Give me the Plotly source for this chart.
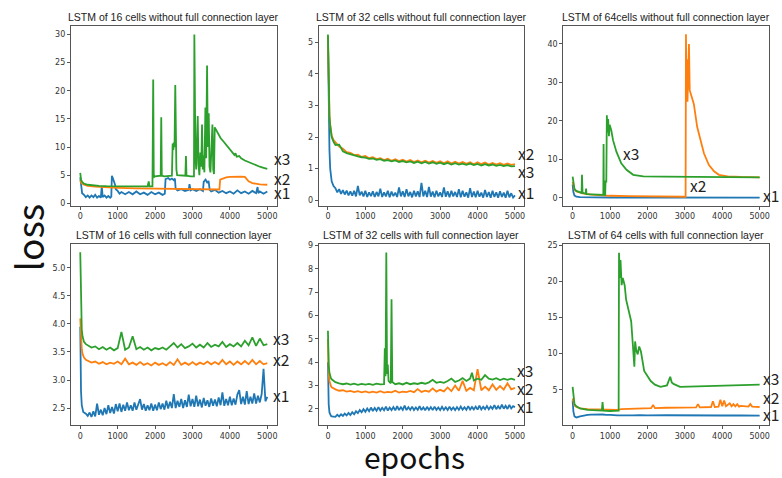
import plotly.graph_objects as go

# the page body margin is removed by a post script, so figure pixels == window pixels
OFF = 0
W, H = 782, 478

# ---------------- data ----------------
EARLY = [0, 10, 20, 40, 60, 80, 100, 150]
G50 = list(range(200, 5001, 50))
G100 = list(range(200, 5001, 100))

titles = [
    "LSTM of 16 cells without full connection layer",
    "LSTM of 32 cells without full connection layer",
    "LSTM of 64cells without full connection layer",
    "LSTM of 16 cells with full connection layer",
    "LSTM of 32 cells with full connection layer",
    "LSTM of 64 cells with full connection layer",
]
series_names = ["x1", "x2", "x3"]

# Panel 1: 16 cells, no FC
p1_x1_ep = [0, 20, 50, 100, 150, 200, 250, 300, 350, 400, 450, 500, 550, 575, 600, 650, 700, 750, 800, 830,
            845, 870, 900, 930, 950, 1000, 1050, 1100, 1200, 1300, 1400, 1500, 1600, 1700, 1800, 1900, 2000,
            2100, 2200, 2260, 2280, 2350, 2400, 2450, 2500, 2530, 2550, 2600, 2700, 2800, 2900, 2920, 2950,
            3000, 3100, 3200, 3280, 3300, 3350, 3400, 3430, 3460, 3500, 3600, 3700, 3800, 3900, 4000, 4100,
            4200, 4300, 4400, 4500, 4600, 4700, 4740, 4760, 4800, 4900, 5000]
p1_x1 = [4.6, 2.8, 1.8, 1.5, 1.1, 1.4, 1.0, 1.4, 1.1, 1.5, 1.0, 1.3, 1.0, 3.0, 1.1, 1.4, 1.0, 1.3, 1.0, 1.2,
         4.9, 4.5, 4.0, 3.3, 2.5, 2.2, 1.7, 2.0, 1.6, 2.0, 1.6, 2.1, 1.6, 1.9, 1.5, 2.0, 1.6,
         1.9, 1.5, 1.7, 4.3, 4.5, 4.2, 4.4, 4.1, 4.4, 2.6, 2.3, 2.5, 2.2, 2.4, 3.4, 2.3,
         2.5, 2.2, 2.5, 2.2, 3.8, 4.2, 3.6, 4.0, 2.4, 2.1, 2.4, 1.9, 2.2, 1.8, 2.1, 1.7,
         2.3, 1.8, 2.1, 1.7, 2.2, 1.8, 2.9, 1.8, 2.1, 1.7, 2.1]
p1_x2_ep = [0, 30, 100, 200, 400, 600, 1000, 1500, 2000, 2500, 3000, 3500, 3720, 3740, 3800, 3900, 4000,
            4100, 4200, 4300, 4400, 4450, 4500, 4600, 4700, 4800, 5000]
p1_x2 = [4.1, 3.6, 3.3, 3.1, 2.95, 2.85, 2.75, 2.65, 2.6, 2.55, 2.5, 2.45, 2.45, 4.2, 4.4, 4.6, 4.7,
         4.75, 4.75, 4.75, 4.7, 4.3, 3.9, 3.6, 3.45, 3.35, 3.3]
p1_x3_ep = [0, 20, 50, 100, 200, 300, 500, 700, 1000, 1300, 1600, 1800, 1830, 1850, 1930, 1950, 1965,
            1980, 2000, 2100, 2150, 2165, 2180, 2250, 2350, 2450, 2470, 2490, 2500, 2520, 2540, 2555,
            2570, 2590, 2700, 2810, 2825, 2840, 2950, 3040, 3050, 3065, 3080, 3100, 3140, 3160, 3185,
            3210, 3235, 3255, 3275, 3295, 3318, 3345, 3365, 3390, 3410, 3435, 3455, 3480, 3505, 3533,
            3555, 3575, 3595, 3660, 3750, 3840, 3950, 4050, 4120, 4150, 4180, 4250, 4300, 4400, 4500,
            4600, 4700, 4800, 4900, 5000]
p1_x3 = [5.4, 4.2, 3.8, 3.5, 3.3, 3.2, 3.1, 3.05, 3.0, 3.0, 2.95, 3.0, 3.9, 3.0, 3.0, 22.0, 5.2,
         4.7, 4.8, 4.8, 4.9, 15.3, 4.9, 4.8, 4.8, 4.9, 10.6, 9.5, 10.8, 10.0, 21.0, 10.5,
         6.0, 5.0, 4.9, 4.9, 8.4, 4.9, 4.8, 4.8, 30.0, 12.0, 8.0, 6.0, 15.5, 7.0, 5.0,
         9.0, 6.5, 14.0, 6.0, 8.5, 5.5, 17.0, 8.0, 24.5, 10.0, 16.0, 6.5, 5.5, 10.0, 14.0,
         6.0, 5.2, 13.5, 12.6, 11.6, 10.9, 10.0, 9.2, 8.6, 8.9, 8.3, 8.4, 8.0, 7.6, 7.3,
         7.0, 6.8, 6.5, 6.3, 6.1]

# Panel 2: 32 cells, no FC
p2_x1_ep = EARLY + G50
p2_x1 = [5.2, 4.0, 2.8, 1.6, 1.0, 0.75, 0.6, 0.45,
         0.38, 0.25, 0.35, 0.2, 0.32, 0.18, 0.3, 0.15, 0.28, 0.14,
         0.3, 0.12, 0.45, 0.15, 0.27, 0.12, 0.3, 0.1, 0.25, 0.13,
         0.28, 0.1, 0.26, 0.12, 0.36, 0.1, 0.25, 0.12, 0.3, 0.09,
         0.27, 0.13, 0.24, 0.1, 0.4, 0.12, 0.28, 0.1, 0.35, 0.12,
         0.26, 0.09, 0.3, 0.12, 0.28, 0.1, 0.55, 0.12, 0.3, 0.1,
         0.42, 0.11, 0.27, 0.09, 0.3, 0.12, 0.25, 0.1, 0.4, 0.11,
         0.28, 0.09, 0.3, 0.12, 0.26, 0.1, 0.35, 0.09, 0.3, 0.11,
         0.25, 0.08, 0.38, 0.1, 0.27, 0.09, 0.3, 0.11, 0.24, 0.08,
         0.32, 0.1, 0.26, 0.08, 0.3, 0.1, 0.25, 0.08, 0.28, 0.1,
         0.24, 0.08, 0.3, 0.09, 0.22, 0.08, 0.15]
p2_x2_ep = EARLY + G100
p2_x2 = [5.2, 4.2, 3.4, 2.7, 2.4, 2.2, 2.05, 1.9,
         1.82, 1.7, 1.63, 1.52, 1.5, 1.43, 1.44, 1.37, 1.4, 1.33,
         1.36, 1.3, 1.33, 1.27, 1.31, 1.25, 1.3, 1.24, 1.28, 1.22,
         1.27, 1.21, 1.26, 1.2, 1.25, 1.19, 1.24, 1.18, 1.23, 1.17,
         1.23, 1.16, 1.22, 1.16, 1.21, 1.15, 1.2, 1.14, 1.2, 1.14,
         1.19, 1.13, 1.18, 1.13, 1.17, 1.12, 1.16, 1.12, 1.14]
p2_x3_ep = EARLY + G100
p2_x3 = [5.25, 4.1, 3.3, 2.65, 2.35, 2.15, 2.0, 1.85,
         1.75, 1.76, 1.55, 1.49, 1.45, 1.41, 1.39, 1.36, 1.35, 1.31,
         1.32, 1.28, 1.3, 1.25, 1.27, 1.23, 1.26, 1.21, 1.24, 1.2,
         1.23, 1.18, 1.22, 1.17, 1.21, 1.16, 1.2, 1.15, 1.19, 1.14,
         1.18, 1.13, 1.17, 1.13, 1.16, 1.12, 1.16, 1.11, 1.15, 1.1,
         1.14, 1.1, 1.13, 1.09, 1.12, 1.08, 1.11, 1.07, 1.08]

# Panel 3: 64 cells, no FC
p3_x1_ep = [0, 20, 50, 100, 200, 500, 1000, 5000]
p3_x1 = [3.5, 1.5, 0.6, 0.3, 0.2, 0.15, 0.1, 0.05]
p3_x2_ep = [0, 20, 50, 100, 200, 300, 500, 700, 1000, 1500, 2000, 2500, 3020, 3030, 3040, 3050, 3070,
            3100, 3110, 3130, 3160, 3240, 3330, 3420, 3510, 3640, 3780, 3910, 4140, 4500, 5000]
p3_x2 = [4.2, 3.0, 2.2, 1.7, 1.3, 1.1, 0.85, 0.7, 0.55, 0.45, 0.4, 0.35, 0.3, 42.5, 30.0, 36.0, 25.0,
         38.0, 40.0, 28.0, 27.0, 24.4, 18.4, 14.6, 11.6, 8.6, 6.9, 6.0, 5.6, 5.45, 5.35]
p3_x3_ep = [0, 20, 50, 100, 200, 240, 250, 265, 350, 360, 370, 500, 700, 820, 827, 835, 870, 880, 900,
            915, 930, 950, 970, 990, 1034, 1080, 1170, 1300, 1440, 1620, 1890, 2430, 3000, 4000, 5000]
p3_x3 = [5.5, 3.5, 2.3, 1.8, 1.4, 1.3, 6.0, 1.3, 1.1, 2.4, 1.0, 0.9, 0.85, 0.8, 14.0, 0.8, 0.8, 4.5, 4.0,
         21.5, 17.0, 20.5, 16.0, 19.0, 17.5, 15.0, 12.0, 9.0, 7.3, 6.0, 5.6, 5.5, 5.45, 5.4, 5.35]

# Panel 4: 16 cells, with FC
p4_x1_ep = EARLY + G50
p4_x1 = [3.95, 3.2, 2.8, 2.55, 2.47, 2.43, 2.42, 2.4,
         2.36, 2.42, 2.34, 2.44, 2.35, 2.58, 2.38, 2.47, 2.37, 2.5,
         2.39, 2.55, 2.41, 2.52, 2.4, 2.57, 2.44, 2.58, 2.43, 2.56,
         2.45, 2.6, 2.46, 2.55, 2.45, 2.6, 2.47, 2.58, 2.66, 2.47,
         2.57, 2.45, 2.55, 2.46, 2.58, 2.45, 2.56, 2.46, 2.6, 2.48,
         2.58, 2.47, 2.63, 2.49, 2.61, 2.5, 2.75, 2.5, 2.63, 2.52,
         2.66, 2.5, 2.64, 2.52, 2.74, 2.53, 2.66, 2.52, 2.72, 2.53,
         2.65, 2.51, 2.68, 2.54, 2.64, 2.52, 2.67, 2.54, 2.65, 2.53,
         2.69, 2.55, 2.78, 2.54, 2.66, 2.55, 2.7, 2.55, 2.67, 2.56,
         2.74, 2.82, 2.57, 2.7, 2.56, 2.8, 2.57, 2.7, 2.58, 2.76,
         2.58, 2.72, 2.6, 2.75, 3.2, 2.62, 2.7]
p4_x2_ep = EARLY + G100
p4_x2 = [4.1, 3.85, 3.7, 3.55, 3.47, 3.42, 3.4, 3.36,
         3.34, 3.31, 3.33, 3.29, 3.32, 3.28, 3.31, 3.29, 3.33, 3.28,
         3.38, 3.28, 3.31, 3.27, 3.32, 3.27, 3.3, 3.26, 3.31, 3.27,
         3.3, 3.26, 3.32, 3.27, 3.37, 3.27, 3.31, 3.27, 3.32, 3.27,
         3.31, 3.28, 3.33, 3.28, 3.32, 3.28, 3.36, 3.28, 3.33, 3.27,
         3.33, 3.28, 3.34, 3.28, 3.36, 3.28, 3.34, 3.28, 3.3]
p4_x3_ep = EARLY + G100
p4_x3 = [5.28, 4.6, 4.2, 3.9, 3.78, 3.72, 3.68, 3.64,
         3.62, 3.58, 3.6, 3.55, 3.59, 3.54, 3.58, 3.53, 3.57, 3.86,
         3.54, 3.58, 3.78, 3.55, 3.59, 3.54, 3.58, 3.53, 3.57, 3.55,
         3.58, 3.54, 3.6, 3.66, 3.58, 3.64, 3.57, 3.6, 3.65, 3.58,
         3.63, 3.58, 3.66, 3.59, 3.63, 3.6, 3.68, 3.59, 3.64, 3.6,
         3.66, 3.6, 3.7, 3.62, 3.76, 3.61, 3.74, 3.62, 3.64]

# Panel 5: 32 cells, with FC
p5_x1_ep = EARLY + G50
p5_x1 = [4.0, 2.9, 2.2, 1.85, 1.75, 1.7, 1.68, 1.68,
         1.66, 1.75, 1.68, 1.77, 1.7, 1.8, 1.72, 1.83, 1.74, 1.86,
         1.77, 1.9, 1.82, 1.95, 1.86, 1.99, 1.88, 2.02, 1.9, 2.06,
         1.91, 2.04, 1.92, 2.08, 1.93, 2.05, 1.94, 2.1, 1.93, 2.06,
         1.95, 2.08, 1.94, 2.12, 1.95, 2.07, 1.96, 2.14, 1.95, 2.08,
         1.96, 2.1, 1.95, 2.06, 1.96, 2.12, 1.95, 2.07, 1.94, 2.09,
         1.96, 2.08, 1.95, 2.1, 1.96, 2.06, 1.95, 2.09, 1.96, 2.07,
         1.95, 2.1, 1.96, 2.06, 1.95, 2.08, 1.96, 2.1, 1.97, 2.07,
         1.96, 2.12, 1.97, 2.08, 1.98, 2.1, 1.97, 2.14, 1.98, 2.09,
         1.99, 2.12, 1.98, 2.1, 2.0, 2.16, 1.99, 2.12, 2.0, 2.18,
         2.01, 2.14, 2.0, 2.17, 2.02, 2.12, 2.08]
p5_x2_ep = EARLY + G100
p5_x2 = [5.0, 4.0, 3.5, 3.2, 3.05, 2.98, 2.93, 2.88,
         2.84, 2.78, 2.8, 2.74, 2.77, 2.72, 2.76, 2.71, 2.75, 2.7,
         2.74, 2.7, 2.76, 2.7, 2.73, 2.71, 2.78, 2.7, 2.74, 2.72,
         2.77, 2.72, 2.85, 2.73, 2.78, 2.74, 2.88, 2.74, 2.82, 2.75,
         2.92, 2.76, 3.0, 2.78, 3.2, 2.78, 2.9, 2.8, 3.7, 2.8,
         2.95, 2.8, 3.05, 2.82, 2.98, 2.83, 3.1, 2.84, 2.9]
p5_x3_ep = EARLY + [200, 300, 400, 500, 600, 700, 800, 900, 1000, 1100, 1200, 1300, 1400, 1500, 1520,
                    1540, 1560, 1580, 1600, 1620, 1650, 1680, 1700, 1720, 1800, 1900, 2000, 2100, 2200,
                    2300, 2400, 2500, 2600, 2700, 2800, 2900, 3000, 3100, 3200, 3300, 3400, 3500, 3600,
                    3700, 3800, 3850, 3900, 4000, 4100, 4200, 4300, 4400, 4500, 4600, 4700, 4800, 4900,
                    5000]
p5_x3 = [5.35, 4.4, 3.9, 3.55, 3.4, 3.32, 3.27, 3.2,
         3.15, 3.1, 3.06, 3.09, 3.04, 3.08, 3.03, 3.07, 3.04, 3.07, 3.03, 3.08, 3.05, 3.06, 4.6,
         3.4, 8.7, 3.5, 3.9, 3.2, 3.15, 3.1, 6.7, 3.15, 3.06, 3.1, 3.05, 3.12, 3.06,
         3.1, 3.07, 3.12, 3.08, 3.14, 3.25, 3.12, 3.16, 3.12, 3.2, 3.3, 3.16, 3.22, 3.32,
         3.2, 3.3, 3.55, 3.22, 3.3, 3.25, 3.45, 3.3, 3.26, 3.32, 3.24, 3.3, 3.25, 3.3,
         3.25]

# Panel 6: 64 cells, with FC
p6_x1_ep = [0, 20, 50, 100, 200, 300, 400, 500, 600, 700, 800, 900, 1000, 1200, 1400, 1600, 1800, 2000,
            2500, 3000, 3500, 4000, 4500, 5000]
p6_x1 = [3.5, 2.0, 1.3, 1.15, 1.3, 1.45, 1.5, 1.55, 1.58, 1.52, 1.56, 1.5, 1.52, 1.45, 1.5, 1.45, 1.48,
         1.43, 1.46, 1.42, 1.45, 1.42, 1.44, 1.4]
p6_x2_ep = [0, 20, 50, 100, 200, 400, 600, 800, 1000, 1200, 1300, 1500, 1700, 1900, 2100, 2150, 2200,
            2500, 2800, 3000, 3300, 3350, 3400, 3700, 3750, 3800, 3900, 3950, 4000, 4050, 4100, 4200,
            4250, 4300, 4350, 4400, 4450, 4500, 4700, 4750, 4800, 5000]
p6_x2 = [3.8, 3.2, 2.8, 2.6, 2.4, 2.3, 2.25, 2.2, 2.2, 2.2, 2.3, 2.35, 2.4, 2.45, 2.45, 2.9, 2.45,
         2.5, 2.5, 2.5, 2.55, 3.0, 2.55, 2.6, 3.4, 2.6, 2.65, 3.6, 2.7, 3.5, 2.7, 3.1,
         2.7, 3.0, 2.7, 3.0, 2.65, 2.75, 2.65, 3.0, 2.65, 2.6]
p6_x3_ep = [0, 20, 50, 100, 200, 400, 600, 780, 800, 820, 1000, 1200, 1230, 1240, 1260, 1280, 1310,
            1340, 1391, 1430, 1478, 1520, 1565, 1609, 1635, 1650, 1670, 1700, 1739, 1780, 1826, 1860,
            1913, 2000, 2087, 2200, 2348, 2522, 2609, 2650, 2696, 2870, 3500, 4000, 5000]
p6_x3 = [5.4, 3.8, 3.0, 2.7, 2.4, 2.2, 2.15, 2.1, 3.3, 2.1, 2.05, 2.05, 2.1, 24.0, 20.5, 23.0, 19.5,
         20.5, 19.5, 17.5, 16.3, 15.5, 14.5, 11.3, 9.0, 8.2, 11.7, 10.5, 9.9, 11.0, 10.3, 9.0,
         7.6, 6.9, 6.2, 5.7, 5.4, 5.6, 6.8, 6.0, 5.8, 5.4, 5.5, 5.6, 5.7]

panel_data = [
    [(p1_x1_ep, p1_x1), (p1_x2_ep, p1_x2), (p1_x3_ep, p1_x3)],
    [(p2_x1_ep, p2_x1), (p2_x2_ep, p2_x2), (p2_x3_ep, p2_x3)],
    [(p3_x1_ep, p3_x1), (p3_x2_ep, p3_x2), (p3_x3_ep, p3_x3)],
    [(p4_x1_ep, p4_x1), (p4_x2_ep, p4_x2), (p4_x3_ep, p4_x3)],
    [(p5_x1_ep, p5_x1), (p5_x2_ep, p5_x2), (p5_x3_ep, p5_x3)],
    [(p6_x1_ep, p6_x1), (p6_x2_ep, p6_x2), (p6_x3_ep, p6_x3)],
]

y_ranges = [[-0.45, 31.45], [-0.18, 5.51], [-2.07, 44.6], [2.196, 5.42], [1.31, 9.05], [0.1, 25.15]]
y_ticks = [[0, 5, 10, 15, 20, 25, 30], [0, 1, 2, 3, 4, 5], [0, 10, 20, 30, 40],
           [2.5, 3.0, 3.5, 4.0, 4.5, 5.0], [2, 3, 4, 5, 6, 7, 8, 9], [5, 10, 15, 20, 25]]
x_ticks = [0, 1000, 2000, 3000, 4000, 5000]

# ---------------- style / layout ----------------
COLORS = ["#1f77b4", "#ff7f0e", "#2ca02c"]
# pixel positions in the 782x478 window
XDOM_PX = [(71, 277), (319, 525), (564, 770)]
YDOM_PX = [(23.5, 205), (244, 426.5)]


def fx(px):
    return (px - OFF) / W


def fy(py):
    return 1 - (py - OFF) / H


fig = go.Figure()
layout = dict(width=W, height=H, margin=dict(l=0, r=0, t=0, b=0), showlegend=False,
              paper_bgcolor="white", plot_bgcolor="white")

tickfont = dict(family="DejaVu Sans", size=8, color="#333")
for i in range(6):
    r, c = divmod(i, 3)
    n = "" if i == 0 else str(i + 1)
    xd = [fx(XDOM_PX[c][0]), fx(XDOM_PX[c][1])]
    yd = [fy(YDOM_PX[r][1]), fy(YDOM_PX[r][0])]
    common = dict(showline=True, mirror=True, linecolor="#555", linewidth=1, ticks="outside",
                  ticklen=3, tickcolor="#555", showgrid=False, zeroline=False, tickfont=tickfont)
    layout["xaxis" + n] = dict(domain=xd, anchor="y" + n, range=[-250, 5250], tickvals=x_ticks, **common)
    ytf = ".1f" if i == 3 else None
    layout["yaxis" + n] = dict(domain=yd, anchor="x" + n, range=y_ranges[i], tickvals=y_ticks[i],
                               tickformat=ytf, **common)
    for k, (ep, vals) in enumerate(panel_data[i]):
        fig.add_trace(go.Scatter(x=ep, y=vals, mode="lines", line=dict(color=COLORS[k], width=1.8),
                                 xaxis="x" + n, yaxis="y" + n, name=series_names[k]))

annotations = []
title_y = [14, 234]
for i, t in enumerate(titles):
    r, c = divmod(i, 3)
    cx = fx((XDOM_PX[c][0] + XDOM_PX[c][1]) / 2)
    annotations.append(dict(text=t, x=cx, y=fy(title_y[r]), xref="paper", yref="paper",
                            xanchor="center", yanchor="middle", showarrow=False,
                            font=dict(family="Liberation Sans", size=10.5, color="#222")))

label_pos = [
    (0, "x3", 272, 157), (0, "x2", 272, 177), (0, "x1", 272, 191),
    (1, "x2", 517, 152), (1, "x3", 517, 170), (1, "x1", 517, 191),
    (2, "x3", 622, 152), (2, "x2", 689, 184), (2, "x1", 762, 194),
    (3, "x3", 271, 339), (3, "x2", 271, 360), (3, "x1", 271, 396),
    (4, "x3", 516, 371), (4, "x2", 516, 389), (4, "x1", 516, 407),
    (5, "x3", 762, 379), (5, "x2", 762, 398), (5, "x1", 762, 415),
]
for _, txt, px, py in label_pos:
    annotations.append(dict(text=txt, x=fx(px), y=fy(py), xref="paper", yref="paper",
                            xanchor="left", yanchor="middle", showarrow=False,
                            font=dict(family="Noto Sans CJK JP", size=15.5, color="#222")))

annotations.append(dict(text="loss", x=fx(28), y=fy(237), xref="paper", yref="paper",
                        xanchor="center", yanchor="middle", showarrow=False, textangle=-90,
                        font=dict(family="Noto Sans CJK JP", size=37, color="#111")))
annotations.append(dict(text="epochs", x=fx(415), y=fy(458), xref="paper", yref="paper",
                        xanchor="center", yanchor="middle", showarrow=False,
                        font=dict(family="Noto Sans CJK JP", size=30, color="#111")))
layout["annotations"] = annotations
fig.update_layout(**layout)
fig.write_html("out.html", config={"displayModeBar": False},
               post_script="document.body.style.margin='0';document.body.style.overflow='hidden';")
